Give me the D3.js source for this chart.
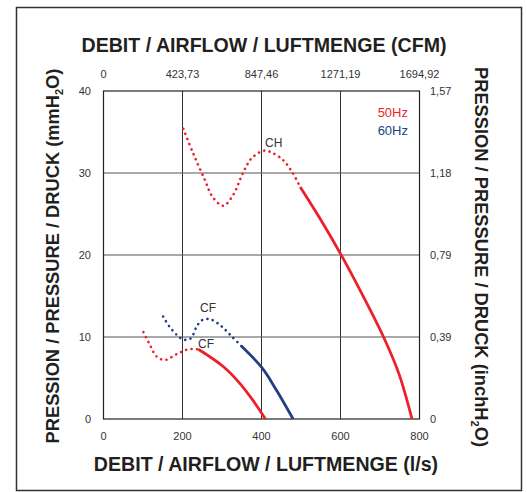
<!DOCTYPE html>
<html>
<head>
<meta charset="utf-8">
<script src="https://cdn.jsdelivr.net/npm/d3@7"></script>
<style>
  body { margin: 0; background: #fff; }
  text { font-family: 'Liberation Sans', Arial, sans-serif; }
</style>
</head>
<body>
<div id="chart"></div>
<script>
// axis ticks
const flowTicks = [0, 200, 400, 600, 800];
const cfmLabels = ['0', '423,73', '847,46', '1271,19', '1694,92'];
const pressTicks = [0, 10, 20, 30, 40];
const inchLabels = ['0', '0,39', '0,79', '1,18', '1,57'];

// curves [l/s, mmH2O]
const ch50Dotted = [[202, 35.4], [227, 32.4], [257, 29.1], [276, 27.1], [303, 26.0], [328, 27.3],
  [353, 30.0], [375, 31.8], [404, 32.7], [421, 32.6], [454, 31.6], [479, 30.0], [498, 28.3]];
const ch50Solid = [[498, 28.3], [550, 24.3], [603, 19.9], [655, 15.2], [709, 10.0], [748, 5.5], [781, 0]];
const cf50Dotted = [[101, 10.6], [118, 9.0], [135, 7.6], [156, 7.2], [181, 7.8], [198, 8.2], [215, 8.5], [240, 8.5]];
const cf50Solid = [[240, 8.5], [303, 6.4], [345, 4.35], [378, 2.3], [410, 0]];
const cf60Dotted = [[151, 12.5], [168, 11.2], [189, 10.1], [202, 9.7], [217, 9.7], [226, 10.2], [236, 11.3],
  [248, 12.0], [261, 12.2], [274, 12.1], [299, 11.3], [324, 10.1], [349, 8.9]];
const cf60Solid = [[349, 8.9], [402, 6.2], [438, 3.5], [480, 0]];

const red = '#ee1f2b';
const blue = '#223f85';

const width = 527;
const height = 492;

const svg = d3.select('#chart')
  .append('svg')
  .attr('width', width)
  .attr('height', height);

// outer frame
svg.append('rect')
  .attr('x', 16.5)
  .attr('y', 7.5)
  .attr('width', 505)
  .attr('height', 483)
  .attr('fill', 'none')
  .attr('stroke', '#333')
  .attr('stroke-width', 1.5);

const x = d3.scaleLinear().domain([0, 800]).range([103.5, 419.5]);
const y = d3.scaleLinear().domain([0, 40]).range([419, 91]);

// grid
svg.append('g')
  .selectAll('line')
  .data(flowTicks.slice(1, -1))
  .enter()
  .append('line')
  .attr('x1', d => x(d))
  .attr('x2', d => x(d))
  .attr('y1', y(0))
  .attr('y2', y(40))
  .attr('stroke', '#333')
  .attr('stroke-width', 1);

svg.append('g')
  .selectAll('line')
  .data(pressTicks.slice(1, -1))
  .enter()
  .append('line')
  .attr('x1', x(0))
  .attr('x2', x(800))
  .attr('y1', d => y(d))
  .attr('y2', d => y(d))
  .attr('stroke', '#555')
  .attr('stroke-width', 1.2);

svg.append('rect')
  .attr('x', x(0))
  .attr('y', y(40))
  .attr('width', x(800) - x(0))
  .attr('height', y(0) - y(40))
  .attr('fill', 'none')
  .attr('stroke', '#222')
  .attr('stroke-width', 1.2);

// tick labels
const tickStyle = sel => sel
  .attr('font-size', '11px')
  .attr('fill', '#333');

svg.append('g').selectAll('text')
  .data(flowTicks)
  .enter()
  .append('text')
  .attr('x', d => x(d))
  .attr('y', 440)
  .attr('text-anchor', 'middle')
  .call(tickStyle)
  .text(d => d);

svg.append('g').selectAll('text')
  .data(flowTicks)
  .enter()
  .append('text')
  .attr('x', d => x(d))
  .attr('y', 78)
  .attr('text-anchor', 'middle')
  .call(tickStyle)
  .text((d, i) => cfmLabels[i]);

svg.append('g').selectAll('text')
  .data(pressTicks)
  .enter()
  .append('text')
  .attr('x', 91)
  .attr('y', d => y(d) + 4)
  .attr('text-anchor', 'end')
  .call(tickStyle)
  .text(d => d);

svg.append('g').selectAll('text')
  .data(pressTicks)
  .enter()
  .append('text')
  .attr('x', 430)
  .attr('y', d => y(d) + 4)
  .attr('text-anchor', 'start')
  .call(tickStyle)
  .text((d, i) => inchLabels[i]);

// axis titles
const titleStyle = (size) => sel => sel
  .attr('font-size', `${size}px`)
  .attr('font-weight', 'bold')
  .attr('fill', '#231f20')
  .attr('text-anchor', 'middle');

svg.append('text')
  .attr('x', 264)
  .attr('y', 52)
  .call(titleStyle(19.6))
  .text('DEBIT / AIRFLOW / LUFTMENGE (CFM)');

svg.append('text')
  .attr('x', 266)
  .attr('y', 471)
  .call(titleStyle(19.6))
  .text('DEBIT / AIRFLOW / LUFTMENGE (l/s)');

const leftTitle = svg.append('text')
  .attr('transform', 'translate(59, 256) rotate(-90)')
  .call(titleStyle(18.3));
leftTitle.append('tspan').text('PRESSION / PRESSURE / DRUCK (mmH');
leftTitle.append('tspan').attr('font-size', '11px').attr('dy', 4).text('2');
leftTitle.append('tspan').attr('dy', -4).text('O)');

const rightTitle = svg.append('text')
  .attr('transform', 'translate(475, 257) rotate(90)')
  .call(titleStyle(18.3));
rightTitle.append('tspan').text('PRESSION / PRESSURE / DRUCK (inchH');
rightTitle.append('tspan').attr('font-size', '11px').attr('dy', 4).text('2');
rightTitle.append('tspan').attr('dy', -4).text('O)');

// curves
const line = d3.line()
  .x(d => x(d[0]))
  .y(d => y(d[1]))
  .curve(d3.curveCatmullRom);

const curves = [
  { data: ch50Dotted, color: red, dotted: true },
  { data: ch50Solid, color: red, dotted: false },
  { data: cf50Dotted, color: red, dotted: true },
  { data: cf50Solid, color: red, dotted: false },
  { data: cf60Dotted, color: blue, dotted: true },
  { data: cf60Solid, color: blue, dotted: false },
];

curves.forEach((c) => {
  svg.append('path')
    .datum(c.data)
    .attr('fill', 'none')
    .attr('stroke', c.color)
    .attr('stroke-width', c.dotted ? 2.6 : 2.8)
    .attr('stroke-linecap', c.dotted ? 'round' : 'butt')
    .attr('stroke-dasharray', c.dotted ? '0.1 5.4' : null)
    .attr('d', line);
});

// curve labels
const labelStyle = sel => sel
  .attr('font-size', '12px')
  .attr('fill', '#333');

svg.append('text').attr('x', 265).attr('y', 147).call(labelStyle).text('CH');
svg.append('text').attr('x', 200).attr('y', 312).call(labelStyle).text('CF');
svg.append('text').attr('x', 198).attr('y', 348).call(labelStyle).text('CF');

// legend
svg.append('text')
  .attr('x', 408).attr('y', 117)
  .attr('text-anchor', 'end')
  .attr('font-size', '13px')
  .attr('fill', red)
  .text('50Hz');
svg.append('text')
  .attr('x', 408).attr('y', 135)
  .attr('text-anchor', 'end')
  .attr('font-size', '13px')
  .attr('fill', blue)
  .text('60Hz');
</script>
</body>
</html>
